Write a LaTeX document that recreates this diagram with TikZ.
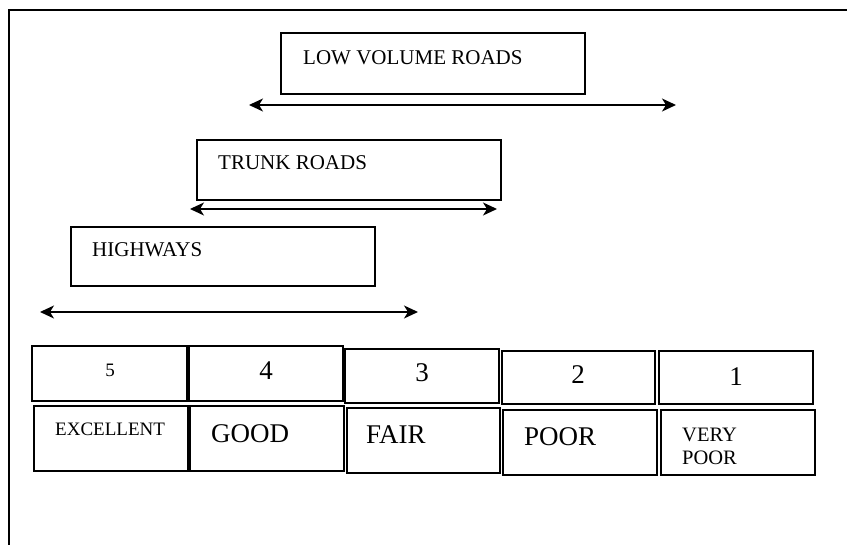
\documentclass[tikz,border=0pt]{standalone}
\usepackage{fontspec}
\setmainfont{Liberation Serif}
\usetikzlibrary{arrows.meta}
\tikzset{
  box/.style={draw=black,line width=1.5pt,fill=none},
  lab/.style={inner sep=0pt,anchor=west,text=black},
  big/.style={font=\fontsize{21}{25}\selectfont},
  huge/.style={font=\fontsize{27}{31}\selectfont},
  small/.style={font=\fontsize{19}{23}\selectfont},
  dbl/.style={line width=1.5pt,{Stealth[length=14pt,width=13pt,inset=4pt]}-{Stealth[length=14pt,width=13pt,inset=4pt]}}
}
\begin{document}
\begin{tikzpicture}[x=1pt,y=-1pt]
\useasboundingbox (0,0) rectangle (847,545);
% outer frame (top and left only)
\coordinate (fTL) at (9,10);
\coordinate (fTR) at (848,10);
\coordinate (fBL) at (9,546);
\draw[line width=1.5pt] (fTR) -- (fTL) -- (fBL);

% category boxes
\draw[box] (281,33) rectangle (585,94);
\node[lab,big] (lvr) at (303,58) {LOW VOLUME ROADS};
\draw[box] (197,140) rectangle (501,200);
\node[lab,big] (trk) at (218,163) {TRUNK ROADS};
\draw[box] (71,227) rectangle (375,286);
\node[lab,big] (hwy) at (92,250) {HIGHWAYS};

% range arrows
\coordinate (lvA) at (249,105);
\coordinate (lvB) at (676,105);
\draw[dbl] (lvA) -- (lvB);
\coordinate (trA) at (190,209);
\coordinate (trB) at (497,209);
\draw[dbl] (trA) -- (trB);
\coordinate (hwA) at (40,312);
\coordinate (hwB) at (418,312);
\draw[dbl] (hwA) -- (hwB);

% number boxes
\draw[box] (32,346) rectangle (187,401);
\draw[box] (189,346) rectangle (343,401);
\draw[box] (345,349) rectangle (499,403);
\draw[box] (502,351) rectangle (655,404);
\draw[box] (659,351) rectangle (813,404);
\node[inner sep=0pt,small] (n5) at (110,370) {5};
\node[inner sep=0pt,huge] (n4) at (266,371) {4};
\node[inner sep=0pt,huge] (n3) at (422,373) {3};
\node[inner sep=0pt,huge] (n2) at (578,375) {2};
\node[inner sep=0pt,huge] (n1) at (736,377) {1};

% rating boxes
\draw[box] (34,406) rectangle (188,471);
\draw[box] (190,406) rectangle (344,471);
\draw[box] (347,408) rectangle (500,473);
\draw[box] (503,410) rectangle (657,475);
\draw[box] (661,410) rectangle (815,475);
\node[lab,small] (t5) at (55,429) {EXCELLENT};
\node[lab,huge] (t4) at (211,434) {GOOD};
\node[lab,huge] (t3) at (366,435) {FAIR};
\node[lab,huge] (t2) at (524,437) {POOR};
\node[lab,font=\fontsize{20.5}{23}\selectfont,align=left] (t1) at (682,446.5) {VERY\\POOR};
\end{tikzpicture}
\end{document}
